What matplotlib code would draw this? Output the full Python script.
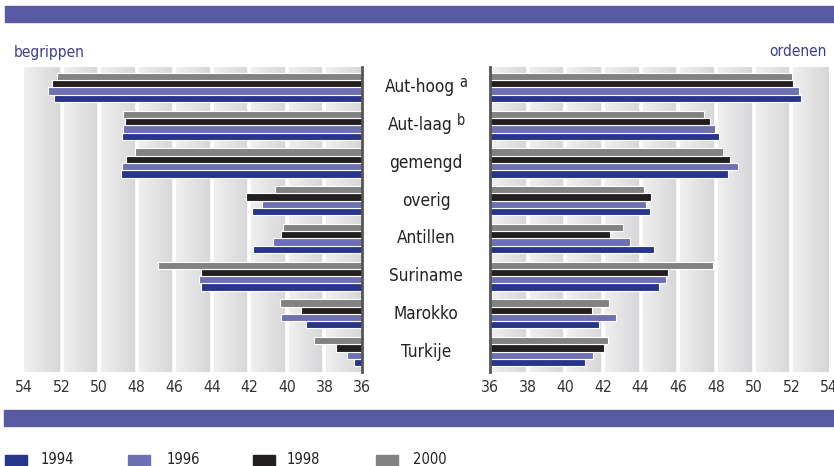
import matplotlib
matplotlib.use('Agg')
import matplotlib.pyplot as plt
import numpy as np
from matplotlib.patches import Rectangle
from matplotlib.text import Annotation
from matplotlib import font_manager as fm

# ---------------- data ----------------
categories = ['Aut-hoog', 'Aut-laag', 'gemengd', 'overig', 'Antillen',
              'Suriname', 'Marokko', 'Turkije']
superscripts = ['a', 'b', '', '', '', '', '', '']
years = ['1994', '1996', '1998', '2000']

begrippen_1994 = [52.4, 48.8, 48.85, 41.85, 41.8, 44.55, 39.0, 36.45]
begrippen_1996 = [52.7, 48.75, 48.8, 41.3, 40.75, 44.7, 40.3, 36.8]
begrippen_1998 = [52.5, 48.6, 48.55, 42.2, 40.3, 44.55, 39.25, 37.4]
begrippen_2000 = [52.25, 48.75, 48.1, 40.65, 40.2, 46.85, 40.35, 38.55]

ordenen_1994 = [52.5, 48.15, 48.65, 44.5, 44.7, 44.95, 41.8, 41.05]
ordenen_1996 = [52.4, 47.95, 49.15, 44.3, 43.45, 45.35, 42.7, 41.45]
ordenen_1998 = [52.1, 47.7, 48.75, 44.55, 42.35, 45.45, 41.4, 42.05]
ordenen_2000 = [52.05, 47.35, 48.35, 44.2, 43.05, 47.85, 42.3, 42.25]

tick_values = [36, 38, 40, 42, 44, 46, 48, 50, 52, 54]
panel_titles = ['begrippen', 'ordenen']

# ---------------- font choice (prefer a condensed face) ----------------
names = {f.name for f in fm.fontManager.ttflist}
has_cond = any(f.name == 'DejaVu Sans' and 'Condensed' in f.fname
               for f in fm.fontManager.ttflist)

if 'Liberation Sans Narrow' in names:
    FAM, STRETCH, scale = 'Liberation Sans Narrow', 'normal', 1.05
elif has_cond:
    FAM, STRETCH, scale = 'DejaVu Sans', 'condensed', 0.88
else:
    FAM, STRETCH, scale = 'Liberation Sans', 'normal', 0.84

plt.rcParams['font.family'] = [FAM, 'DejaVu Sans']
plt.rcParams['font.stretch'] = STRETCH

colors = {'1994': '#27358c', '1996': '#6e70b4', '1998': '#231f20', '2000': '#828282'}
banner = '#585ba3'
title_col = '#3a3d96'
text_col = '#222222'

W, H = 834, 466
fig = plt.figure(figsize=(W / 100, H / 100), dpi=100)


def fx(px):
    return px / W


def fy(py):
    return 1 - py / H


# banners
fig.patches.append(Rectangle((fx(5), fy(22)), fx(834) - fx(5), (22 - 6) / H,
                             transform=fig.transFigure, color=banner, zorder=0))
fig.patches.append(Rectangle((fx(4), fy(426)), fx(834) - fx(4), (426 - 410) / H,
                             transform=fig.transFigure, color=banner, zorder=0))

top_px, bot_px = 67, 372
axL = fig.add_axes([fx(24), fy(bot_px), (362 - 24) / W, (bot_px - top_px) / H])
axR = fig.add_axes([fx(490), fy(bot_px), (829 - 490) / W, (bot_px - top_px) / H])

left_series = {'1994': begrippen_1994, '1996': begrippen_1996,
               '1998': begrippen_1998, '2000': begrippen_2000}
right_series = {'1994': ordenen_1994, '1996': ordenen_1996,
                '1998': ordenen_1998, '2000': ordenen_2000}

# gradient background (9 bands, light -> dark, left to right)
nb = len(tick_values) - 1
samples = 120
light = np.array([0.945, 0.945, 0.945])
dark = np.array([0.84, 0.84, 0.85])
t = np.tile(np.linspace(0, 1, samples), nb)
grad = light[None, :] * (1 - t[:, None]) + dark[None, :] * t[:, None]
grad = grad[None, :, :]

slot = 0.193
offsets = {'2000': -1.5 * slot, '1998': -0.5 * slot, '1996': 0.5 * slot, '1994': 1.5 * slot}
yc = np.arange(len(categories))

for ax, series, inv in ((axL, left_series, True), (axR, right_series, False)):
    ax.imshow(grad, extent=(0, 1, 0, 1), transform=ax.transAxes, aspect='auto',
              interpolation='bilinear', zorder=0)
    for v in tick_values[1:-1]:
        ax.axvline(v, color='white', lw=2.6, zorder=1)
    for yr in years:
        vals = np.array(series[yr])
        ax.barh(yc + offsets[yr], vals - 36, left=36, height=slot,
                color=colors[yr], edgecolor='white', linewidth=0.8, zorder=2)
    if inv:
        ax.set_xlim(54, 36)
    else:
        ax.set_xlim(36, 54)
    ax.set_ylim(len(categories) - 1 + 0.54, -0.543)
    ax.set_xticks(tick_values)
    ax.set_xticklabels([str(v) for v in tick_values], fontsize=12.8 * scale,
                       color='#333333')
    ax.tick_params(axis='x', length=0, pad=6)
    ax.set_yticks([])
    for s in ax.spines.values():
        s.set_visible(False)
    ax.axvline(36, color='#555555', lw=2.0, zorder=3, clip_on=False)

# category labels in the middle (with raised footnote letters)
main_fs = 14 * scale
for i, (c, sup) in enumerate(zip(categories, superscripts)):
    ypix = top_px + (i + 0.543) * (bot_px - top_px) / (len(categories) - 1 + 1.083)
    xc = 426 - (6 if sup else 0)
    tx = fig.text(fx(xc), fy(ypix), c, ha='center', va='center', fontsize=main_fs,
                  color=text_col)
    if sup:
        ann = Annotation(sup, xy=(1.0, 0.52), xycoords=tx, xytext=(3.0, 0),
                         textcoords='offset points', fontsize=main_fs * 0.85,
                         color=text_col, ha='left', va='baseline')
        fig.add_artist(ann)

# panel titles
fig.text(fx(14), fy(52), panel_titles[0], ha='left', va='center', fontsize=12.6 * scale,
         color=title_col)
fig.text(fx(827), fy(52), panel_titles[1], ha='right', va='center', fontsize=12.6 * scale,
         color=title_col)

# legend
leg_x = [5, 128, 253, 376]
txt_x = [41, 167, 287, 413]
for yr, px, tx in zip(years, leg_x, txt_x):
    fig.patches.append(Rectangle((fx(px), fy(466)), 22 / W, 11 / H,
                                 transform=fig.transFigure, color=colors[yr]))
    fig.text(fx(tx), fy(460), yr, ha='left', va='center', fontsize=12 * scale,
             color=text_col)

fig.savefig('out.png', dpi=100)
